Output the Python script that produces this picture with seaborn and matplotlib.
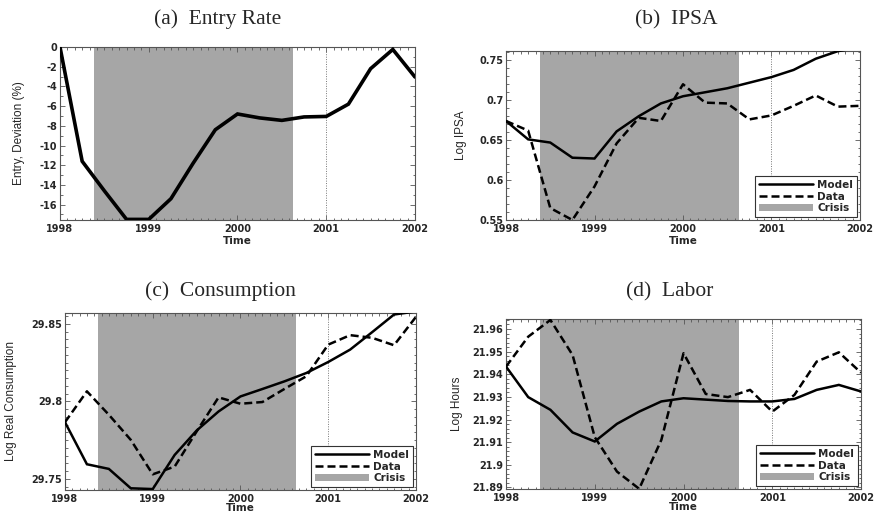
import numpy as np
import pandas as pd
import matplotlib
matplotlib.use("Agg")
import matplotlib.pyplot as plt
from matplotlib.lines import Line2D
from matplotlib.patches import Patch
from matplotlib.ticker import MultipleLocator
import seaborn as sns

# Quarterly time axis, 1998Q1 .. 2002Q1
time = [1998.0, 1998.25, 1998.5, 1998.75, 1999.0, 1999.25, 1999.5, 1999.75,
        2000.0, 2000.25, 2000.5, 2000.75, 2001.0, 2001.25, 2001.5, 2001.75, 2002.0]

# Crisis window (shaded)
crisis = [1998.38, 2000.63]

entry_model = [0.0, -11.6, -14.6, -17.5, -17.5, -15.4, -11.8, -8.4,
               -6.8, -7.2, -7.45, -7.1, -7.05, -5.8, -2.2, -0.25, -3.05]

ipsa_model = [0.674, 0.651, 0.647, 0.628, 0.627, 0.661, 0.680, 0.696,
              0.705, 0.710, 0.715, 0.722, 0.729, 0.738, 0.752, 0.7615, 0.766]
ipsa_data = [0.674, 0.662, 0.565, 0.550, 0.592, 0.646, 0.678, 0.674,
             0.720, 0.697, 0.696, 0.676, 0.681, 0.693, 0.706, 0.692, 0.693]

cons_model = [29.7866, 29.7595, 29.7565, 29.7440, 29.7435, 29.7655, 29.7812, 29.7935,
              29.8032, 29.8080, 29.8129, 29.8183, 29.8254, 29.8334, 29.8446, 29.8560, 29.8580]
cons_data = [29.7866, 29.8065, 29.7914, 29.7752, 29.7530, 29.7580, 29.7806, 29.8026,
             29.7985, 29.7996, 29.8080, 29.8162, 29.8366, 29.8427, 29.8410, 29.8362, 29.8545]

hours_model = [21.9434, 21.9299, 21.9243, 21.9143, 21.9103, 21.9181, 21.9235, 21.9280,
               21.9294, 21.9288, 21.9282, 21.9280, 21.9280, 21.9291, 21.9331, 21.9353, 21.9324]
hours_data = [21.9434, 21.9566, 21.9640, 21.9485, 21.9122, 21.8970, 21.8894, 21.9110,
              21.9493, 21.9313, 21.9299, 21.9331, 21.9235, 21.9309, 21.9456, 21.9497, 21.9407]

titles = ["(a)  Entry Rate", "(b)  IPSA", "(c)  Consumption", "(d)  Labor"]
ylabels = ["Entry, Deviation (%)", "Log IPSA", "Log Real Consumption", "Log Hours"]
xticks = [1998, 1999, 2000, 2001, 2002]

sns.set_theme(style="ticks")
plt.rcParams["font.family"] = ["DejaVu Sans"]

fig = plt.figure(figsize=(8.77, 5.14), dpi=100)

panels = [
    dict(rect=[0.0684, 0.572, 0.4048, 0.3366], model=entry_model, data=None,
         ylim=(-17.56, 0.0), major=2, minor=1, lw=2.6, ylab_x=-0.099,
         title_xy=(218, 24), xlabpad=1),
    dict(rect=[0.577, 0.572, 0.4036, 0.3288], model=ipsa_model, data=ipsa_data,
         ylim=(0.55, 0.7617), major=0.05, minor=0.01, lw=1.8, ylab_x=-0.110,
         title_xy=(676, 24), xlabpad=1),
    dict(rect=[0.0741, 0.0467, 0.4002, 0.3444], model=cons_model, data=cons_data,
         ylim=(29.7429, 29.857), major=0.05, minor=0.005, lw=1.8, ylab_x=-0.137,
         title_xy=(220, 296), xlabpad=-0.5),
    dict(rect=[0.577, 0.0486, 0.4048, 0.3307], model=hours_model, data=hours_data,
         ylim=(21.8893, 21.9644), major=0.01, minor=0.002, lw=1.8, ylab_x=-0.121,
         title_xy=(670, 296), xlabpad=-0.5),
]

crisis_color = "#a6a6a6"
tick_font = dict(family="DejaVu Sans", weight="bold", size=7)

for i, p in enumerate(panels):
    ax = fig.add_axes(p["rect"])
    ax.axvspan(crisis[0], crisis[1], color=crisis_color, lw=0, zorder=0)
    ax.axvline(2001, color="#777777", lw=0.7, ls=(0, (1, 1.5)), zorder=1)

    sns.lineplot(x=time, y=p["model"], ax=ax, color="black", lw=p["lw"],
                 solid_joinstyle="miter", zorder=3)
    if p["data"] is not None:
        sns.lineplot(x=time, y=p["data"], ax=ax, color="black", lw=p["lw"],
                     linestyle=(0, (3.2, 1.6)), zorder=3)

    ax.set_xlim(1998, 2002)
    ax.set_ylim(*p["ylim"])
    ax.set_xticks(xticks)
    ax.xaxis.set_minor_locator(MultipleLocator(1 / 12))
    ax.yaxis.set_major_locator(MultipleLocator(p["major"]))
    ax.yaxis.set_minor_locator(MultipleLocator(p["minor"]))
    ax.set_xticklabels([str(x) for x in xticks], fontdict=tick_font)
    yt = [v for v in ax.get_yticks() if p["ylim"][0] - 1e-9 <= v <= p["ylim"][1] + 1e-9]
    ax.set_yticks(yt)
    ax.set_yticklabels([f"{round(v, 4):g}" for v in yt], fontdict=tick_font)
    ax.set_ylim(*p["ylim"])

    ax.tick_params(which="both", direction="in", top=True, right=True,
                   color="#555555", width=0.6)
    ax.tick_params(which="major", length=3.5)
    ax.tick_params(which="minor", length=1.8)
    ax.tick_params(axis="x", which="major", pad=3)
    ax.tick_params(axis="y", which="major", pad=2)
    for s in ax.spines.values():
        s.set_color("#555555")
        s.set_linewidth(0.8)

    ax.set_xlabel("Time", fontdict=dict(family="DejaVu Sans", weight="bold", size=7.5),
                  labelpad=p["xlabpad"])
    ax.set_ylabel(ylabels[i], fontdict=dict(family=["Liberation Sans", "DejaVu Sans"],
                                            size=8.5))
    ax.yaxis.set_label_coords(p["ylab_x"], 0.5)

    tx, ty = p["title_xy"]
    fig.text(tx / 877, 1 - ty / 514, titles[i], ha="center", va="baseline",
             family=["Liberation Serif", "DejaVu Serif"], size=15.5)

    if p["data"] is not None:
        handles = [
            Line2D([], [], color="black", lw=1.8),
            Line2D([], [], color="black", lw=1.8, linestyle=(0, (3.2, 1.6))),
            Patch(facecolor=crisis_color, edgecolor="none"),
        ]
        leg = ax.legend(handles, ["Model", "Data", "Crisis"], loc="lower right",
                        prop=dict(family="DejaVu Sans", weight="bold", size=7.5),
                        frameon=True, fancybox=False, framealpha=1,
                        edgecolor="#333333", handlelength=5.2, handletextpad=0.4,
                        labelspacing=0.15, borderpad=0.35, borderaxespad=0.3)
        leg.get_frame().set_linewidth(0.8)
    else:
        leg = ax.get_legend()
        if leg is not None:
            leg.remove()

fig.savefig("out.png", dpi=100)
